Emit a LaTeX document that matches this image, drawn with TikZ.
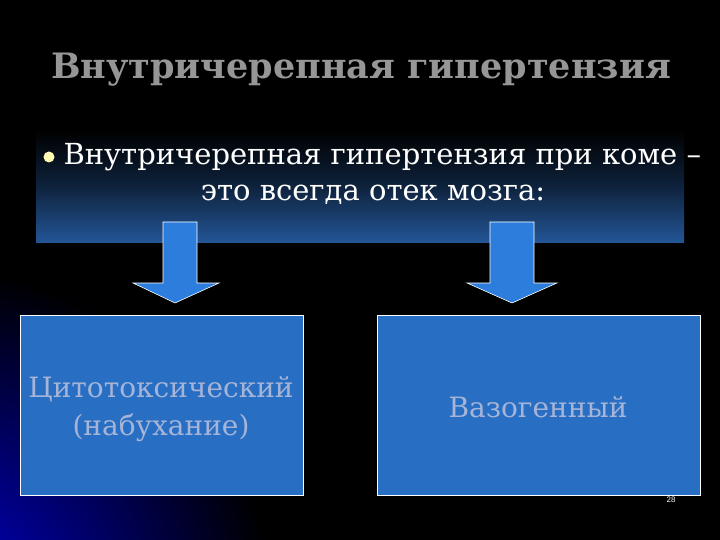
\documentclass[tikz,border=0pt]{standalone}
\usepackage{fontspec}
\setmainfont{DejaVu Serif}
\newfontfamily\tms{DejaVu Serif}
\newfontfamily\sansf{Liberation Sans}
\usetikzlibrary{shadings}
\definecolor{boxblue}{RGB}{40,110,195}
\definecolor{topblue}{RGB}{35,85,150}
\definecolor{arrowblue}{RGB}{45,125,220}
\definecolor{titlegray}{RGB}{150,150,150}
\definecolor{lblue}{RGB}{165,180,215}
\tikzset{
  sbox/.style={draw=white,line width=0.8pt,fill=boxblue,minimum width=#1,minimum height=180pt,inner sep=0pt},
  btext/.style={text=white,font=\tms\fontsize{29}{38}\selectfont,align=center},
  ltext/.style={text=lblue,font=\tms\fontsize{28}{38}\selectfont,align=center},
  arr/.style={fill=arrowblue,draw=white,line width=0.6pt}
}
\begin{document}
\begin{tikzpicture}[x=1pt,y=-1pt]
\useasboundingbox (0,0) rectangle (720,540);
\fill[black] (0,0) rectangle (720,540);
\begin{scope}
\clip (0,0) rectangle (720,540);
\shade[inner color=blue!80!black,outer color=black] (-60,600) circle (330);
\end{scope}
\shade[top color=black,bottom color=topblue,middle color=black!60!topblue] (36,130) rectangle (684,242);
\node[text=titlegray,font=\tms\fontsize{35}{40}\selectfont\bfseries] (title) at (361,70) {Внутричерепная гипертензия};
\fill[yellow!30!white] (49,157) circle (5.5) coordinate (bul);
\node[btext,anchor=west] (l1) at (60,157) {Внутричерепная гипертензия при коме –};
\node[btext] (l2) at (373,195) {это всегда отек мозга:};
\node[sbox=283pt] (b1) at (161.5,405) {};
\node[sbox=323pt] (b2) at (538.5,405) {};
\node[ltext] (t1) at (161,409) {Цитотоксический\\(набухание)};
\node[ltext] (t2) at (538,407) {Вазогенный};
\node[text=white,font=\sansf\fontsize{8}{9}\selectfont] (pg) at (671,500) {28};
\draw[arr] (163,222) -- (197,222) -- (197,283) -- (219,283) -- (175,303) -- (133,283) -- (163,283) -- cycle;
\draw[arr] (490,222) -- (534,222) -- (534,283) -- (557,283) -- (512,303) -- (467,283) -- (490,283) -- cycle;
\end{tikzpicture}
\end{document}
